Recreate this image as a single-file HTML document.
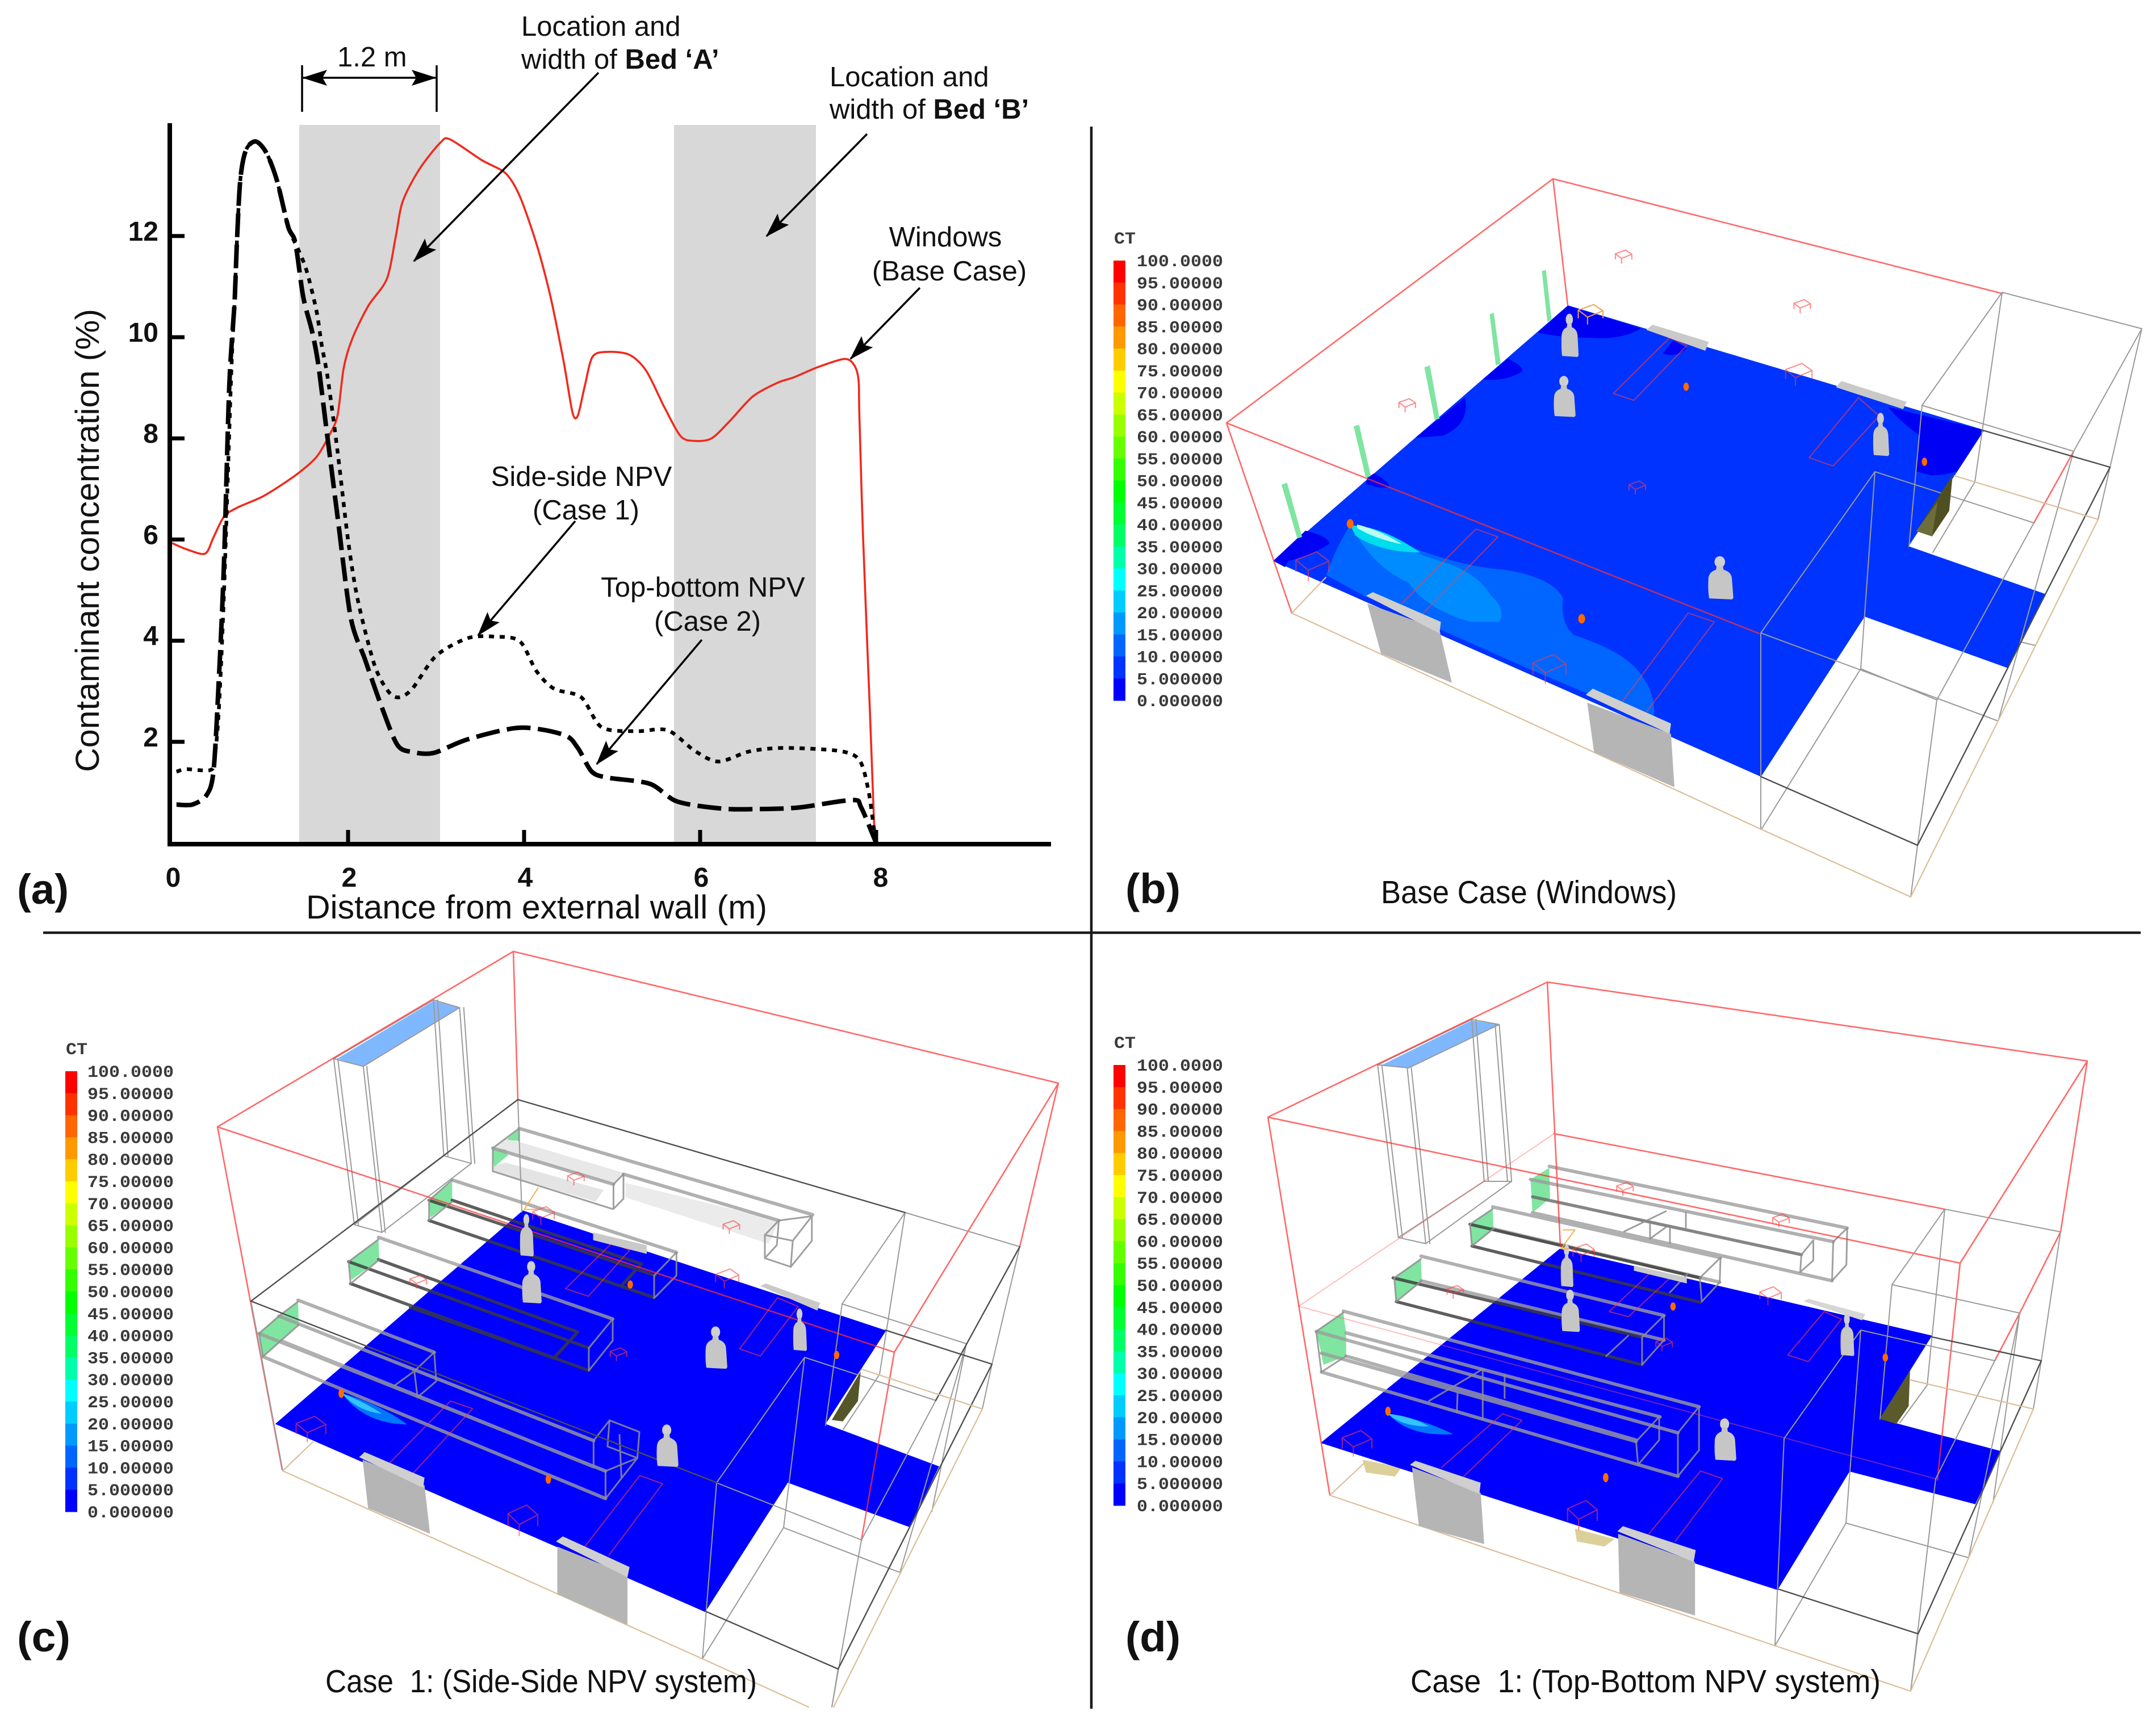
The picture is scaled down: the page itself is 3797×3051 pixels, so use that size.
<!DOCTYPE html>
<html lang="en">
<head>
<meta charset="utf-8">
<title>Contaminant concentration and ventilation cases</title>
<style>
html,body{margin:0;padding:0;background:#fff;}
svg{display:block;}
text{font-family:"Liberation Sans",Arial,sans-serif;fill:#111;}
.ann{font-size:49px;}
.w{fill:none;vector-effect:non-scaling-stroke;stroke-linejoin:round;stroke-linecap:round;}
.red{stroke:#ff2f2f;stroke-width:2.6;stroke-opacity:.72;}
.gray{stroke:#9a9a9a;stroke-width:2;}
.dark{stroke:#4e4e4e;stroke-width:2.4;}
.tan{stroke:#dcbd98;stroke-width:2.2;}
.bed{stroke:#ff3c3c;stroke-width:2;stroke-opacity:.6;}
.lr{stroke:#ff5a5a;stroke-width:2;stroke-opacity:.4;}
.d1{stroke:#9c9c9c;stroke-width:6;stroke-opacity:.8;}
.d2{stroke:#3a3a3a;stroke-width:5.5;stroke-opacity:.82;}
.d3{stroke:#8e8e8e;stroke-width:3;stroke-opacity:.85;}
.cb{font-family:"Liberation Mono",monospace;font-size:30px;fill:#3a3a3a;font-weight:bold;}
</style>
</head>
<body>
<svg id="figure" xmlns="http://www.w3.org/2000/svg" width="3797" height="3051" viewBox="0 0 3797 3051">
<defs>
  <marker id="ah" markerUnits="userSpaceOnUse" markerWidth="44" markerHeight="30" viewBox="0 0 44 30" refX="42" refY="15" orient="auto-start-reverse">
    <path d="M0,1 L44,15 L0,29 L8,15 Z" fill="#000"/>
  </marker>
  <g id="person">
    <ellipse cx="0" cy="-35" rx="7" ry="11" fill="#cfcfcf"/>
    <path d="M-4,-28 L4,-28 L5,-20 Q15,-16 16,-4 L18,34 L16,37 L-14,35 Q-16,20 -15,-4 Q-14,-16 -5,-20 Z" fill="#c6c6c6"/>
  </g>
  <path id="wb" class="w" d="M-12,-4 L3,-11 L12,-3 L-3,5 Z M-12,-4 V6 M-3,5 V14 M12,-3 V6"/>
</defs>

<rect width="3797" height="3051" fill="#fff"/>

<!-- PANEL A -->
<g id="panel-a">
  <rect x="527" y="220" width="248" height="1265" fill="#d8d8d8"/>
  <rect x="1187" y="220" width="250" height="1265" fill="#d8d8d8"/>
  <g id="series-layer"></g>
  <g id="axis-layer"></g>
  <text transform="translate(174,1360) rotate(-90)" font-size="58" textLength="816" lengthAdjust="spacingAndGlyphs">Contaminant concentration (%)</text>
  <text x="539" y="1618" font-size="58" textLength="812" lengthAdjust="spacingAndGlyphs">Distance from external wall (m)</text>
  <text x="30" y="1592" font-size="74" font-weight="bold" textLength="91" lengthAdjust="spacingAndGlyphs">(a)</text>

  <path d="M532,115V197" stroke="#000" stroke-width="3.5"/>
  <path d="M769,115V197" stroke="#000" stroke-width="3.5"/>
  <path d="M534,137H767" stroke="#000" stroke-width="3.5" marker-start="url(#ah)" marker-end="url(#ah)"/>
  <text class="ann" x="594" y="117">1.2 m</text>

  <text class="ann" x="918" y="63">Location and</text>
  <text class="ann" x="918" y="121">width of <tspan font-weight="bold">Bed ‘A’</tspan></text>
  <text class="ann" x="1461" y="152">Location and</text>
  <text class="ann" x="1461" y="209">width of <tspan font-weight="bold">Bed ‘B’</tspan></text>
  <text class="ann" x="1665" y="434" text-anchor="middle">Windows</text>
  <text class="ann" x="1672" y="494" text-anchor="middle">(Base Case)</text>
  <text class="ann" x="1024" y="856" text-anchor="middle">Side-side NPV</text>
  <text class="ann" x="1032" y="915" text-anchor="middle">(Case 1)</text>
  <text class="ann" x="1238" y="1051" text-anchor="middle">Top-bottom NPV</text>
  <text class="ann" x="1246" y="1111" text-anchor="middle">(Case 2)</text>

  <path d="M1054,128L729,460" stroke="#000" stroke-width="3.5" marker-end="url(#ah)"/>
  <path d="M1527,236L1350,416" stroke="#000" stroke-width="3.5" marker-end="url(#ah)"/>
  <path d="M1620,507L1498,632" stroke="#000" stroke-width="3.5" marker-end="url(#ah)"/>
  <path d="M1013,918L842,1119" stroke="#000" stroke-width="3.5" marker-end="url(#ah)"/>
  <path d="M1236,1127L1051,1346" stroke="#000" stroke-width="3.5" marker-end="url(#ah)"/>
</g>

<!-- DIVIDERS -->
<path d="M1922,223V3010" stroke="#1a1a1a" stroke-width="4.5"/>
<path d="M76,1643H3770" stroke="#1a1a1a" stroke-width="4.5"/>

<!-- PANEL B -->
<g id="panel-b">
<g transform="translate(1900,200) scale(1.2098,0.9184)">
  <path d="M283,858L712,368L1318,607L1208,830L1408,922L1353,1064L1144,965L993,1272Z" fill="#0033ff"/>
  <g fill="#0000f5">
    <path d="M283,858L330,800Q362,810 365,825Q335,850 305,858L300,870Z"/>
    <path d="M490,622L562,545Q570,595 530,618Z"/>
    <path d="M588,510L625,470Q650,488 645,495Q620,515 588,510Z"/>
    <path d="M668,420L712,368L818,412Q790,435 745,430Q700,430 668,420Z"/>
    <path d="M420,698L430,690Q450,705 452,715Q440,722 418,710Z"/>
    <path d="M1178,563L1318,607L1279,686Q1260,694 1241,694L1218,686L1224,618Q1195,590 1178,563Z"/>
    <path d="M850,460L865,435L885,450Q870,470 850,460Z"/>
  </g>
  <path d="M360,885Q375,830 395,790L480,830Q560,870 620,875Q690,890 705,930Q700,975 720,1000Q790,1030 815,1070Q845,1120 835,1170L745,1115L660,1068L530,992L415,925Z" fill="#0066ff"/>
  <path d="M400,800Q430,870 480,900Q505,950 570,975L612,975Q622,950 600,925Q580,880 530,860Q480,840 400,795Z" fill="#008cff"/>
  <path d="M395,790Q440,790 497,842Q440,842 403,810Z" fill="#00ddee"/>
  <path d="M405,788Q440,800 470,826Q430,815 405,795Z" fill="#b8fff0"/>
</g>
<g>
  <path class="w red" d="M2160,745L2735,315L3526,517M2160,745L3098,1116M2160,745L2275,1080M2735,315L2761,538M3652,795L3582,921"/>
  <path class="w gray" d="M3526,515L3385,714L3362,963M3526,515L3478,849M3526,515L3772,579L3652,795M3772,579L3695,915M3385,714L3652,795M3302,831L3582,921M3302,831L3101,1115M3302,831L3277,1178L3102,1461M3101,1115L3519,1270M3277,1178L3411,1233L3582,921M3411,1233L3365,1580M3652,795L3519,1270M3101,1115L3101,1461M3478,849L3404,973M3377,1489L3365,1580M3585,1137L3559,1131"/>
  <path class="w dark" d="M3492,758L3716,823L3377,1489L3101,1368"/>
  <path class="w tan" d="M3442,838L3695,915L3365,1580L3102,1461L2275,1080L2335,1017"/>
</g>
<g transform="translate(1900,200) scale(1.2098,0.9184)">
  <g>
    <path class="w bed" d="M778,537L808,550L885,445L860,430Z"/>
    <path class="w bed" d="M1063,660L1098,676L1165,580L1135,545Z"/>
    <path class="w bed" d="M470,940L578,797L610,812L500,960"/>
    <path class="w bed" d="M790,1130L887,958L925,975L825,1150"/>
  </g>
  <g>
    <path d="M420,940L525,990L543,1092L440,1036Z" fill="#b5b5b5"/>
    <path d="M418,925L428,918L527,975L525,997Z" fill="#cfcfcf"/>
    <path d="M740,1130L862,1190L867,1292L750,1225Z" fill="#b5b5b5"/>
    <path d="M738,1115L748,1103L862,1170L860,1190Z" fill="#cfcfcf"/>
    <path d="M826,415L835,405L917,438L912,455Z" fill="#c9c9c9"/>
    <path d="M1102,525L1110,513L1205,553L1200,567Z" fill="#c9c9c9"/>
  </g>
  <g fill="#7fe5a0">
    <path d="M295,712L303,708L325,812L318,815Z"/>
    <path d="M400,600L408,597L425,695L418,700Z"/>
    <path d="M503,487L511,483L525,585L518,588Z"/>
    <path d="M598,385L604,382L614,480L607,483Z"/>
    <path d="M674,302L680,300L688,395L682,400Z"/>
  </g>
  <path d="M1219,801L1272,693L1267,762L1242,811Z" fill="#4f4f22"/>
  <path d="M1219,801L1250,745L1242,811Z" fill="#6e6e3c"/>
  <g>
    <use href="#person" transform="translate(714,430) scale(0.75,1)"/>
    <use href="#person" transform="translate(706,547) scale(0.95,0.95)"/>
    <use href="#person" transform="translate(1167,620) scale(0.7,1)"/>
    <use href="#person" transform="translate(933,895) scale(1.1,1)"/>
  </g>
  <g fill="#ff6a00">
    <ellipse cx="395" cy="787" rx="5" ry="9"/><ellipse cx="732" cy="969" rx="5" ry="9"/><ellipse cx="884" cy="524" rx="4" ry="8"/><ellipse cx="1231" cy="668" rx="4" ry="8"/>
  </g>
  <g>
    <use class="w bed" href="#wb" transform="translate(793,273)"/>
    <use class="w bed" href="#wb" transform="translate(1053,368)"/>
    <use class="w bed" href="#wb" transform="translate(478,558)"/>
    <use class="w bed" href="#wb" transform="translate(813,716)"/>
    <use class="w bed" href="#wb" transform="translate(340,865) scale(2,2.2)"/>
    <use class="w bed" href="#wb" transform="translate(685,1062) scale(2,2.2)"/>
    <use class="w bed" href="#wb" transform="translate(1048,498) scale(1.6,1.7)"/>
    <use class="w" stroke="#f0a050" stroke-width="2" href="#wb" transform="translate(745,383) scale(1.5,1.5)"/>
  </g>
</g>
</g>

<!-- PANEL C -->
<g id="panel-c">
<g transform="translate(0,1640) scale(1.2117,0.8999)">
  <path d="M400,965L760,547L1288,782L1200,965L1365,1048L1322,1167L1145,1080L1025,1333Z" fill="#0000ff"/>
  <path d="M497,905Q550,925 592,966Q530,965 497,905Z" fill="#0077ff"/>
  <path d="M497,905Q530,922 555,945Q520,940 497,905Z" fill="#33c4ff"/>
  <g>
    <path d="M490,250L630,137L668,150L528,265Z" fill="#80b8ff"/>
    <path class="w gray" d="M485,250L515,575M491,250L521,575M528,265L555,590M533,265L560,590M630,135L645,440M636,135L651,440M668,150L685,455M674,150L690,455M515,575L645,440M555,590L685,455M515,575L555,590M645,440L685,455M485,250L630,135L668,150L528,265Z"/>
  </g>
</g>
<g transform="translate(400,1900) scale(0.7015,0.5102)">
  <path d="M667,240L700,205L995,325L970,365Z" fill="#e8e8e8"/>
  <path d="M670,300L700,290L945,385L925,425L670,320Z" fill="#e4e4e4"/>
  <path d="M1000,360L1385,490L1360,570L1000,410Z" fill="#ebebeb"/>
  <g fill="#7fe5a0">
    <path d="M667,240L700,245L705,265L670,305Z"/>
    <path d="M705,205L733,175L733,215L705,212Z"/>
    <path d="M507,420L565,355L565,425L510,480Z"/>
    <path d="M305,630L380,555L382,625L312,695Z"/>
    <path d="M80,880L130,820L135,905L90,960Z"/>
    <path d="M130,820L178,770L180,850L135,905Z"/>
  </g>
  <path class="w d1" d="M733,172L1470,470M667,240L970,365M995,330L1385,490M565,350L1128,600M380,548L968,830M178,765L520,945M130,820L920,1250M80,880L950,1355M135,905L920,1340M90,960L950,1450"/>
  <path class="w d2" d="M507,420L1075,680M507,490L1070,755M565,420L1040,640L990,715M305,632L908,930M310,708L908,1008M380,625L880,875L820,965M460,790L820,965"/>
  <path class="w d3" d="M667,320L967,450M1350,540L1420,560L1468,475L1385,490L1350,540M1350,620L1415,650L1468,560M1350,540V620M1420,560L1415,650M1468,475V560M1385,490L1380,575L1350,620M667,240V320M970,365V450M970,365L995,330V415L970,450M667,240L733,172V215M1072,680L1128,600V680L1072,758V680M507,420L565,350M507,420V490L565,425M908,930L968,830V905L908,1008ZM305,632L380,555M305,632L310,708L382,625M80,880L130,820L178,770M80,880L90,960L135,905L180,850M520,945L470,1010L420,1060M520,945L525,1045L478,1100L470,1010M920,1250L960,1180L1035,1220L1030,1310L950,1355M920,1250V1340M950,1355V1450L990,1380L1030,1310M960,1180L955,1270L1030,1310M985,1230L990,1380"/>
</g>
<g>
  <path class="w red" d="M383,1985L904,1676L1864,1908L1575,2382L1517,2713M383,1985L1575,2382M383,1985L497,2589M904,1676L912,1937M1864,1908L1796,2196"/>
  <path class="w gray" d="M1594,2136L1483,2297L1454,2511M1594,2136L1549,2421L1485,2518M1594,2136L1796,2196L1747,2403L1730,2482M1483,2297L1702,2367L1641,2663M1417,2391L1648,2467L1517,2713L1465,3007M1417,2391L1262,2612L1237,2922L1380,2691L1417,2391M1262,2612L1518,2713M1380,2691L1585,2770M1702,2367L1585,2770M1476,2940L1465,3007M442,2292L498,2591M912,1937L919,2135"/>
  <path class="w dark" d="M912,1937L442,2292L1263,2612M912,1937L1594,2136M1796,2196L1648,2467M1559,2343L1747,2403L1476,2940L1244,2839"/>
  <path class="w tan" d="M1518,2412L1730,2482L1468,3007M1424,3007L1237,2922L498,2591L551,2540"/>
</g>
<g transform="translate(0,1640) scale(1.2117,0.8999)">
  <g>
    <path class="w bed" d="M567,1040L655,920L687,935L600,1062"/>
    <path class="w bed" d="M850,1205L930,1066L963,1082L885,1222"/>
    <path class="w bed" d="M822,700L890,610L915,625L855,715Z"/>
    <path class="w bed" d="M1075,818L1130,718L1160,735L1105,832Z"/>
  </g>
  <g>
    <path d="M527,1035L617,1085L625,1180L535,1130Z" fill="#b5b5b5"/>
    <path d="M522,1030L530,1020L617,1070L615,1090Z" fill="#cfcfcf"/>
    <path d="M810,1205L912,1260L912,1358L810,1298Z" fill="#b5b5b5"/>
    <path d="M808,1195L818,1185L915,1245L912,1265Z" fill="#cfcfcf"/>
    <path d="M862,590L940,615L940,632L862,605Z" fill="#c9c9c9"/>
    <path d="M1105,695L1113,690L1192,728L1188,743Z" fill="#c9c9c9"/>
  </g>
  <path d="M1209,957L1251,862L1247,920L1225,960Z" fill="#55552a"/>
  <g>
    <use href="#person" transform="translate(765,600) scale(0.6,1)"/>
    <use href="#person" transform="translate(772,692) scale(0.85,1)"/>
    <use href="#person" transform="translate(1040,820) scale(0.95,1)"/>
    <use href="#person" transform="translate(1162,785) scale(0.6,1)"/>
    <use href="#person" transform="translate(969,1012) scale(0.95,1)"/>
  </g>
  <g fill="#ff6a00">
    <ellipse cx="496" cy="905" rx="4" ry="9"/><ellipse cx="797" cy="1073" rx="4" ry="9"/><ellipse cx="916" cy="692" rx="4" ry="8"/><ellipse cx="1216" cy="830" rx="4" ry="8"/>
  </g>
  <g>
    <use class="w bed" href="#wb" transform="translate(837,483)"/>
    <use class="w bed" href="#wb" transform="translate(1063,578)"/>
    <use class="w bed" href="#wb" transform="translate(608,685)"/>
    <use class="w bed" href="#wb" transform="translate(899,827)"/>
    <use class="w bed" href="#wb" transform="translate(452,972) scale(1.8,2)"/>
    <use class="w bed" href="#wb" transform="translate(760,1150) scale(1.8,2.4)"/>
    <use class="w bed" href="#wb" transform="translate(790,555) scale(1.3,1.4)"/>
    <use class="w bed" href="#wb" transform="translate(1057,678) scale(1.4,1.5)"/>
  </g>
  <path class="w" stroke="#f0b050" stroke-width="2" d="M782,503L762,545H780"/>
</g>
</g>

<!-- PANEL D -->
<g id="panel-d">
<g transform="translate(1900,1640) scale(1.2098,0.8999)">
  <g fill="#dcd09a">
    <path d="M413,1035L470,1050L460,1068L418,1060Z"/>
    <path d="M722,1170L780,1190L765,1205L725,1195Z"/>
  </g>
  <path d="M352,1002L700,622L1242,792L1166,955L1342,1018L1305,1122L1122,1058L1017,1290Z" fill="#0000ff"/>
  <path d="M450,945Q500,955 545,985Q480,990 450,945Z" fill="#0077ff"/>
  <path d="M450,945Q485,950 510,970Q470,970 450,945Z" fill="#33c4ff"/>
  <g>
    <path d="M440,263L572,175L612,183L480,268Z" fill="#80b8ff"/>
    <path class="w gray" d="M435,262L465,600M441,262L471,600M478,268L505,612M484,268L511,612M572,173L590,490M578,173L596,490M612,183L630,490M606,183L624,490M465,600L590,490M505,612L630,490M465,600L505,612M590,490L630,490M435,262L572,173L612,183L480,268Z"/>
  </g>
</g>
<g transform="translate(2250,1950) scale(0.7015,0.5102)">
  <g fill="#7fe5a0">
    <path d="M635,250L682,210L684,315L640,365Z"/>
    <path d="M483,405L540,352L542,420L488,480Z"/>
    <path d="M293,590L360,525L362,600L298,670Z"/>
    <path d="M97,775L165,710L172,780L108,840Z"/>
    <path d="M108,840L172,780L172,860L115,890Z"/>
  </g>
  <path class="w d1" d="M682,205L1430,418M635,250L1395,465M640,365L1392,600M540,345L1112,520M540,420L1110,605M360,515L970,720M360,600L970,805M165,705L1058,1035M97,775L1005,1125M172,780L960,1070M110,850L900,1155M110,915L1005,1275M172,860L900,1150"/>
  <path class="w d2" style="stroke:#6a6a6a" d="M640,310L1315,510"/>
  <path class="w d2" d="M483,405L1060,590M488,480L1062,675M290,590L915,795M298,672L915,890"/>
  <path class="w d3" d="M1395,465L1430,418L1428,545L1392,600L1395,465M1315,510L1312,570L1345,530V460L1315,510M870,430L975,360M1025,365V420M935,400V455L975,415M985,420V470M1060,590L1112,520L1110,605L1065,672L1060,590M1030,575L985,640M483,405L540,352M483,405L488,480L542,420M915,795L970,720V805L915,890L915,795M825,860L880,790M293,590L360,525M293,590L298,672L362,600M97,775L165,710M97,775L110,915L172,860M1005,1125L1058,1035V1185L1005,1275L1005,1125M900,1155L958,1070V1150L905,1235L900,1155M380,1015L515,905V1075M450,1055L452,985M570,925V1005"/>
</g>
<g>
  <path class="w lr" d="M2287,2301L2737,1997M2287,2301L3409,2605"/>
  <path class="w red" d="M2233,1968L2725,1730L3676,1869L3452,2225L3412,2607M2233,1968L3452,2225M2233,1968L2342,2634M2725,1730L2748,2195M3676,1869L3629,2170L3557,2313L3513,2397M2737,1997L3425,2130"/>
  <path class="w gray" d="M3425,2130L3332,2263L3311,2500M3425,2130L3394,2440L3346,2506M3425,2130L3629,2170L3595,2397L3581,2482M3332,2263L3557,2313L3510,2647M3557,2313L3467,2744M3277,2343L3513,2397M3277,2343L3142,2534L3126,2899L3251,2683L3277,2343M3251,2683L3467,2744M3513,2397L3409,2605L3365,2979M3378,2878L3365,2979"/>
  <path class="w dark" d="M3402,2355L3595,2397L3378,2878L3131,2799"/>
  <path class="w tan" d="M3365,2431L3581,2482L3365,2979L3126,2899L2342,2634L2403,2577"/>
</g>
<g transform="translate(1900,1640) scale(1.2098,0.8999)">
  <g>
    <path class="w bed" d="M528,1050L617,945L645,958L560,1068"/>
    <path class="w bed" d="M830,1180L905,1057L937,1072L868,1195"/>
    <path class="w bed" d="M772,745L835,665L860,680L800,755Z"/>
    <path class="w bed" d="M1032,830L1085,745L1110,760L1062,843Z"/>
  </g>
  <g>
    <path d="M485,1050L585,1100L590,1200L495,1165Z" fill="#b5b5b5"/>
    <path d="M482,1045L490,1037L585,1080L583,1102Z" fill="#cfcfcf"/>
    <path d="M785,1180L897,1235L897,1340L787,1295Z" fill="#b5b5b5"/>
    <path d="M784,1175L792,1165L898,1212L895,1235Z" fill="#cfcfcf"/>
    <path d="M808,655L885,678L885,690L808,665Z" fill="#c9c9c9"/>
    <path d="M1055,725L1062,720L1145,750L1140,762Z" fill="#d6d6d6"/>
  </g>
  <path d="M1166,955L1210,860L1208,930L1190,965Z" fill="#5a5a2c"/>
  <g>
    <use href="#person" transform="translate(710,660) scale(0.55,1)"/>
    <use href="#person" transform="translate(715,748) scale(0.8,1)"/>
    <use href="#person" transform="translate(940,1000) scale(0.95,1)"/>
    <use href="#person" transform="translate(1118,795) scale(0.6,1)"/>
  </g>
  <g fill="#ff6a00">
    <ellipse cx="450" cy="940" rx="4" ry="9"/><ellipse cx="767" cy="1070" rx="4" ry="9"/><ellipse cx="865" cy="735" rx="4" ry="8"/><ellipse cx="1174" cy="835" rx="4" ry="8"/>
  </g>
  <g>
    <use class="w bed" href="#wb" transform="translate(795,503)"/>
    <use class="w bed" href="#wb" transform="translate(1022,565)"/>
    <use class="w bed" href="#wb" transform="translate(548,705)"/>
    <use class="w bed" href="#wb" transform="translate(852,808)"/>
    <use class="w bed" href="#wb" transform="translate(405,1000) scale(1.8,2)"/>
    <use class="w bed" href="#wb" transform="translate(733,1140) scale(1.8,2.3)"/>
    <use class="w bed" href="#wb" transform="translate(735,628) scale(1.3,1.4)"/>
    <use class="w bed" href="#wb" transform="translate(1007,712) scale(1.3,1.4)"/>
  </g>
  <path class="w" stroke="#f0b050" stroke-width="2" d="M722,585L702,622H712M705,585H722"/>
</g>
</g>

<g id="colorbars"></g>

<!-- PANEL CAPTIONS -->
<text x="1982" y="1591" font-size="74" font-weight="bold" textLength="97" lengthAdjust="spacingAndGlyphs">(b)</text>
<text x="30" y="2909" font-size="74" font-weight="bold" textLength="94" lengthAdjust="spacingAndGlyphs">(c)</text>
<text x="1982" y="2909" font-size="74" font-weight="bold" textLength="97" lengthAdjust="spacingAndGlyphs">(d)</text>
<text x="2432" y="1591" font-size="57" textLength="521" lengthAdjust="spacingAndGlyphs">Base Case (Windows)</text>
<text x="573" y="2981" font-size="57" textLength="760" lengthAdjust="spacingAndGlyphs" xml:space="preserve">Case  1: (Side-Side NPV system)</text>
<text x="2484" y="2981" font-size="57" textLength="828" lengthAdjust="spacingAndGlyphs" xml:space="preserve">Case  1: (Top-Bottom NPV system)</text>
</svg>

<script>
/* ---- chart data: panel (a) ---- */
var xTicks = [2, 4, 6, 8];
var xTickLabels = ["0", "2", "4", "6", "8"];
var xTickLabelValues = [0, 2, 4, 6, 8];
var yTicks = [2, 4, 6, 8, 10, 12];
var yTickLabels = ["2", "4", "6", "8", "10", "12"];

var windowsDistance = [0,.16,.375,.47,.59,.74,1.05,1.41,1.64,1.78,1.88,1.95,2.05,2.23,2.44,2.54,2.62,2.81,3.05,3.16,3.52,3.79,3.95,4.14,4.30,4.45,4.55,4.61,4.69,4.78,4.96,5.2,5.39,5.59,5.78,5.94,6.13,6.33,6.6,6.88,7.07,7.34,7.64,7.75,7.8,7.81,7.85,7.93,7.98,8];
var windowsConc = [5.93,5.81,5.72,6.04,6.45,6.63,6.87,7.28,7.63,8.04,8.45,9.39,9.98,10.62,11.15,11.97,12.68,13.32,13.85,13.91,13.5,13.24,12.79,11.85,10.8,9.51,8.51,8.45,9.04,9.62,9.71,9.65,9.33,8.63,8.04,7.95,8.0,8.33,8.83,9.1,9.21,9.41,9.57,9.45,9.15,8.45,6.1,2.58,.23,0];

var sideSideDistance = [.05,.16,.43,.48,.53,.59,.67,.71,.735,.775,.84,.95,1.07,1.19,1.32,1.43,1.53,1.64,1.70,1.77,1.88,2.0,2.11,2.3,2.46,2.58,2.73,3.0,3.36,3.67,3.95,4.14,4.34,4.65,4.88,5.27,5.63,5.94,6.21,6.56,6.95,7.58,7.81,7.91,7.97,8];
var sideSideConc = [1.41,1.46,1.44,1.64,2.58,4.93,9.18,10.68,11.8,13.1,13.7,13.87,13.65,13.11,12.18,11.75,11.31,10.53,9.85,9.18,7.75,5.99,4.81,3.52,2.99,2.88,3.05,3.7,4.05,4.08,3.99,3.4,3.05,2.88,2.29,2.21,2.23,1.82,1.61,1.81,1.88,1.82,1.64,1.06,.35,0];

var topBottomDistance = [.05,.23,.39,.47,.53,.59,.65,.71,.735,.775,.84,.95,1.07,1.19,1.32,1.4,1.49,1.59,1.66,1.76,1.88,2.03,2.19,2.38,2.56,2.73,2.97,3.36,3.95,4.45,4.61,4.77,4.96,5.43,5.74,6.25,6.64,7.11,7.73,7.83,8];
var topBottomConc = [.76,.76,.94,1.41,3.17,5.52,9.04,10.68,11.8,13.1,13.7,13.87,13.65,13.11,12.18,11.87,10.8,10.12,9.48,8.1,6.46,4.46,3.64,2.7,1.94,1.8,1.78,2.05,2.28,2.14,1.88,1.41,1.29,1.17,.82,.68,.67,.7,.85,.7,0];

/* ---- colour scale legend ---- */
var legendLabels = ["100.0000","95.00000","90.00000","85.00000","80.00000","75.00000","70.00000","65.00000","60.00000","55.00000","50.00000","45.00000","40.00000","35.00000","30.00000","25.00000","20.00000","15.00000","10.00000","5.000000","0.000000"];
var legendColors = ["#ff0000","#ff3300","#ff6600","#ff9900","#ffcc00","#ffff00","#ccff00","#99ff00","#66ff00","#33ff00","#00ff00","#00ff33","#00ff66","#00ffaa","#00ffff","#00ccff","#0099ff","#0066ff","#0033ff","#0000ff"];

var NS = "http://www.w3.org/2000/svg";
function xScale(v){ return 303 + 155 * v; }
function yScale(v){ return 1485 - 89.1 * v; }

function smoothPath(xs, ys){
  var pts = xs.map(function(x, i){ return [xScale(x), yScale(ys[i])]; });
  var d = "M" + pts[0][0].toFixed(1) + "," + pts[0][1].toFixed(1);
  for (var i = 0; i < pts.length - 1; i++) {
    var p0 = pts[Math.max(i - 1, 0)], p1 = pts[i], p2 = pts[i + 1], p3 = pts[Math.min(i + 2, pts.length - 1)];
    var t = 1 / 7;
    d += "C" + (p1[0] + (p2[0] - p0[0]) * t).toFixed(1) + "," + (p1[1] + (p2[1] - p0[1]) * t).toFixed(1) + " " +
         (p2[0] - (p3[0] - p1[0]) * t).toFixed(1) + "," + (p2[1] - (p3[1] - p1[1]) * t).toFixed(1) + " " +
         p2[0].toFixed(1) + "," + p2[1].toFixed(1);
  }
  return d;
}

var seriesLayer = document.getElementById("series-layer");
var axisLayer = document.getElementById("axis-layer");
var svgLine;

svgLine = document.createElementNS(NS, "path");


svgLine.setAttribute("d", smoothPath(windowsDistance, windowsConc));
svgLine.setAttribute("fill", "none");
svgLine.setAttribute("stroke", "#f02a1c");
svgLine.setAttribute("stroke-width", "3.6");
seriesLayer.appendChild(svgLine);

svgLine = document.createElementNS(NS, "path");


svgLine.setAttribute("d", smoothPath(sideSideDistance, sideSideConc));
svgLine.setAttribute("fill", "none");
svgLine.setAttribute("stroke", "#000");
svgLine.setAttribute("stroke-width", "6.5");
svgLine.setAttribute("stroke-dasharray", "9 10");
seriesLayer.appendChild(svgLine);

svgLine = document.createElementNS(NS, "path");


svgLine.setAttribute("d", smoothPath(topBottomDistance, topBottomConc));
svgLine.setAttribute("fill", "none");
svgLine.setAttribute("stroke", "#000");
svgLine.setAttribute("stroke-width", "8");
svgLine.setAttribute("stroke-dasharray", "42 13");
seriesLayer.appendChild(svgLine);

var yAxis = document.createElementNS(NS, "path");


yAxis.setAttribute("d", "M299,217V1491");
yAxis.setAttribute("stroke", "#000");
yAxis.setAttribute("stroke-width", "8");
axisLayer.appendChild(yAxis);

var xAxis = document.createElementNS(NS, "path");


xAxis.setAttribute("d", "M295,1487H1851");
xAxis.setAttribute("stroke", "#000");
xAxis.setAttribute("stroke-width", "8");
axisLayer.appendChild(xAxis);

xTicks.forEach(function(v){
  var t = document.createElementNS(NS, "path");
  
  
  t.setAttribute("d", "M" + xScale(v) + ",1487V1462");
  t.setAttribute("stroke", "#000");
  t.setAttribute("stroke-width", "7");
  axisLayer.appendChild(t);
});
xTickLabelValues.forEach(function(v, i){
  var t = document.createElementNS(NS, "text");
  
  
  t.setAttribute("x", xScale(v) + (v === 8 ? 8 : 2));
  t.setAttribute("y", 1562);
  t.setAttribute("text-anchor", "middle");
  t.setAttribute("font-size", "48");
  t.setAttribute("font-weight", "bold");
  t.textContent = xTickLabels[i];
  axisLayer.appendChild(t);
});
yTicks.forEach(function(v, i){
  var t = document.createElementNS(NS, "path");
  
  
  t.setAttribute("d", "M299," + yScale(v) + "H325");
  t.setAttribute("stroke", "#000");
  t.setAttribute("stroke-width", "7");
  axisLayer.appendChild(t);
  var l = document.createElementNS(NS, "text");
  
  
  l.setAttribute("x", 279);
  l.setAttribute("y", yScale(v) + 8);
  l.setAttribute("text-anchor", "end");
  l.setAttribute("font-size", "48");
  l.setAttribute("font-weight", "bold");
  l.textContent = yTickLabels[i];
  axisLayer.appendChild(l);
});

/* colour legends */
function drawLegend(barX, top, bottom, labelX, panel){
  var root = document.getElementById("colorbars");
  var g = document.createElementNS(NS, "g");
  
  
  root.appendChild(g);
  var step = (bottom - top) / legendColors.length;
  legendColors.forEach(function(c, i){
    var r = document.createElementNS(NS, "rect");
    
    
    r.setAttribute("x", barX);
    r.setAttribute("y", top + i * step);
    r.setAttribute("width", 21);
    r.setAttribute("height", step + 0.5);
    r.setAttribute("fill", c);
    g.appendChild(r);
  });
  legendLabels.forEach(function(s, i){
    var t = document.createElementNS(NS, "text");
    
    
    t.setAttribute("class", "cb");
    t.setAttribute("x", labelX);
    t.setAttribute("y", top + i * step + 10);
    t.setAttribute("textLength", "152");
    t.setAttribute("lengthAdjust", "spacingAndGlyphs");
    t.textContent = s;
    g.appendChild(t);
  });
  var ct = document.createElementNS(NS, "text");
  
  
  ct.setAttribute("class", "cb");
  ct.setAttribute("x", barX + 1);
  ct.setAttribute("y", top - 30);
  ct.setAttribute("textLength", "38");
  ct.setAttribute("lengthAdjust", "spacingAndGlyphs");
  ct.textContent = "CT";
  g.appendChild(ct);
}
drawLegend(1961, 459, 1234, 2002, "b");
drawLegend(115, 1887, 2663, 154, "c");
drawLegend(1961, 1876, 2652, 2002, "d");
</script>
</body>
</html>
